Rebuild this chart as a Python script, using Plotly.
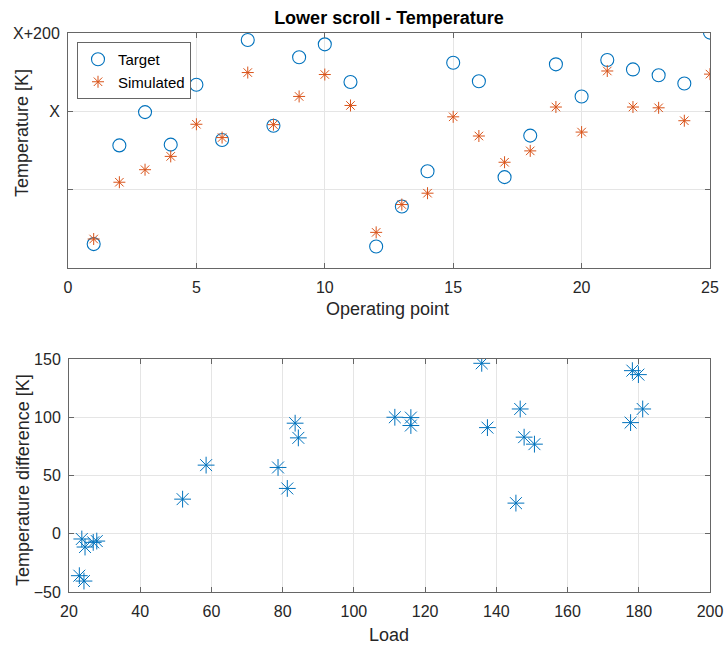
import plotly.graph_objects as go

W, H = 726, 646

# Operating points 1..25
op_points = list(range(1, 26))
# Temperatures relative to the reference level X [K]
target_temp = [-339, -87, -2, -85, 68, -73, 182, -37, 138, 171, 75, -345, -243,
               -153, 124, 77, -168, -62, 120, 38, 131, 107, 92, 71, 201]
simulated_temp = [-326, -181, -149, -115, -33, -67, 99, -34, 38, 94, 15, -309, -238,
                  -209, -14, -63, -130, -101, 11, -53, 103, 11, 9, -24, 95]

# Temperature difference versus load
load = [23.6, 24.5, 26.8, 27.8, 22.9, 24.2, 51.9, 58.5, 78.7, 81.3, 83.5, 84.4, 111.5,
        116.0, 116.0, 135.9, 137.5, 146.7, 145.5, 147.8, 150.7, 178.2, 179.9, 181.1, 177.7]
temp_diff = [-4.5, -11.4, -7.4, -6.3, -36, -40.6, 29.7, 58.9, 56.9, 38.9, 94.9, 82.3, 100,
             99.7, 92.9, 146.3, 91.1, 107.1, 26.3, 82.9, 76.9, 140, 136.6, 107.1, 95.4]

top_yticks = [-400, -200, 0, 200]
top_yticktext = ["", "", "X", "X+200"]

BLUE = "#0072BD"
ORANGE = "#D95319"
FONT = "Liberation Sans"
TXT = "#262626"


def px_x(p):
    return p / W


def px_y(p):
    return 1 - p / H


fig = go.Figure()

fig.add_trace(go.Scatter(
    x=op_points, y=target_temp, mode="markers", name="Target",
    marker=dict(symbol="circle-open", size=13, color=BLUE, line=dict(width=1.1)),
    xaxis="x", yaxis="y",
))
fig.add_trace(go.Scatter(
    x=op_points, y=simulated_temp, mode="markers", name="Simulated",
    marker=dict(symbol="asterisk-open", size=10, color=ORANGE, line=dict(width=1, color=ORANGE)),
    xaxis="x", yaxis="y",
))
fig.add_trace(go.Scatter(
    x=load, y=temp_diff, mode="markers", showlegend=False,
    marker=dict(symbol="asterisk-open", size=14, color=BLUE, line=dict(width=1, color=BLUE)),
    xaxis="x2", yaxis="y2",
))

axis_common = dict(
    showline=True, linecolor="#666666", linewidth=1, mirror="ticks",
    ticks="inside", ticklen=5, tickcolor="#666666",
    showgrid=True, gridcolor="#e5e5e5", gridwidth=1,
    zeroline=False, automargin=False,
    tickfont=dict(family=FONT, size=16, color=TXT),
)
x_common = dict(ticklabelstandoff=5, **axis_common)
y_common = dict(ticklabelstandoff=4, **axis_common)

fig.update_layout(
    width=W, height=H,
    margin=dict(l=0, r=0, t=0, b=0),
    paper_bgcolor="white", plot_bgcolor="white",
    font=dict(family=FONT, color=TXT),
    title=dict(text="<b>Lower scroll - Temperature</b>", x=px_x(389), xanchor="center",
               y=px_y(18), yanchor="middle", font=dict(family=FONT, size=18, color="#000000")),
    xaxis=dict(domain=[px_x(68), px_x(710)], range=[0, 25], tickvals=[0, 5, 10, 15, 20, 25],
               anchor="y", **x_common),
    yaxis=dict(domain=[px_y(268), px_y(33)], range=[-400, 200], tickvals=top_yticks,
               ticktext=top_yticktext, anchor="x", **y_common),
    xaxis2=dict(domain=[px_x(69), px_x(710)], range=[20, 200],
                tickvals=[20, 40, 60, 80, 100, 120, 140, 160, 180, 200], anchor="y2", **x_common),
    yaxis2=dict(domain=[px_y(592), px_y(359)], range=[-50, 150],
                tickvals=[-50, 0, 50, 100, 150], anchor="x2", **y_common),
    legend=dict(x=px_x(77), y=px_y(42), xanchor="left", yanchor="top",
                bgcolor="white", bordercolor="#666666", borderwidth=1,
                font=dict(family=FONT, size=15, color="#000000"),
                tracegroupgap=0, itemwidth=30),
    showlegend=True,
)

label_font = dict(family=FONT, size=18, color=TXT)
fig.add_annotation(text="Operating point", x=px_x(387), y=px_y(309), xref="paper", yref="paper",
                   showarrow=False, xanchor="center", yanchor="middle", font=label_font)
fig.add_annotation(text="Load", x=px_x(389), y=px_y(635), xref="paper", yref="paper",
                   showarrow=False, xanchor="center", yanchor="middle", font=label_font)
fig.add_annotation(text="Temperature [K]", x=px_x(22), y=px_y(133), xref="paper", yref="paper",
                   showarrow=False, xanchor="center", yanchor="middle", textangle=-90, font=label_font)
fig.add_annotation(text="Temperature difference [K]", x=px_x(23), y=px_y(480), xref="paper",
                   yref="paper", showarrow=False, xanchor="center", yanchor="middle",
                   textangle=-90, font=label_font)

fig.write_html("out.html")
